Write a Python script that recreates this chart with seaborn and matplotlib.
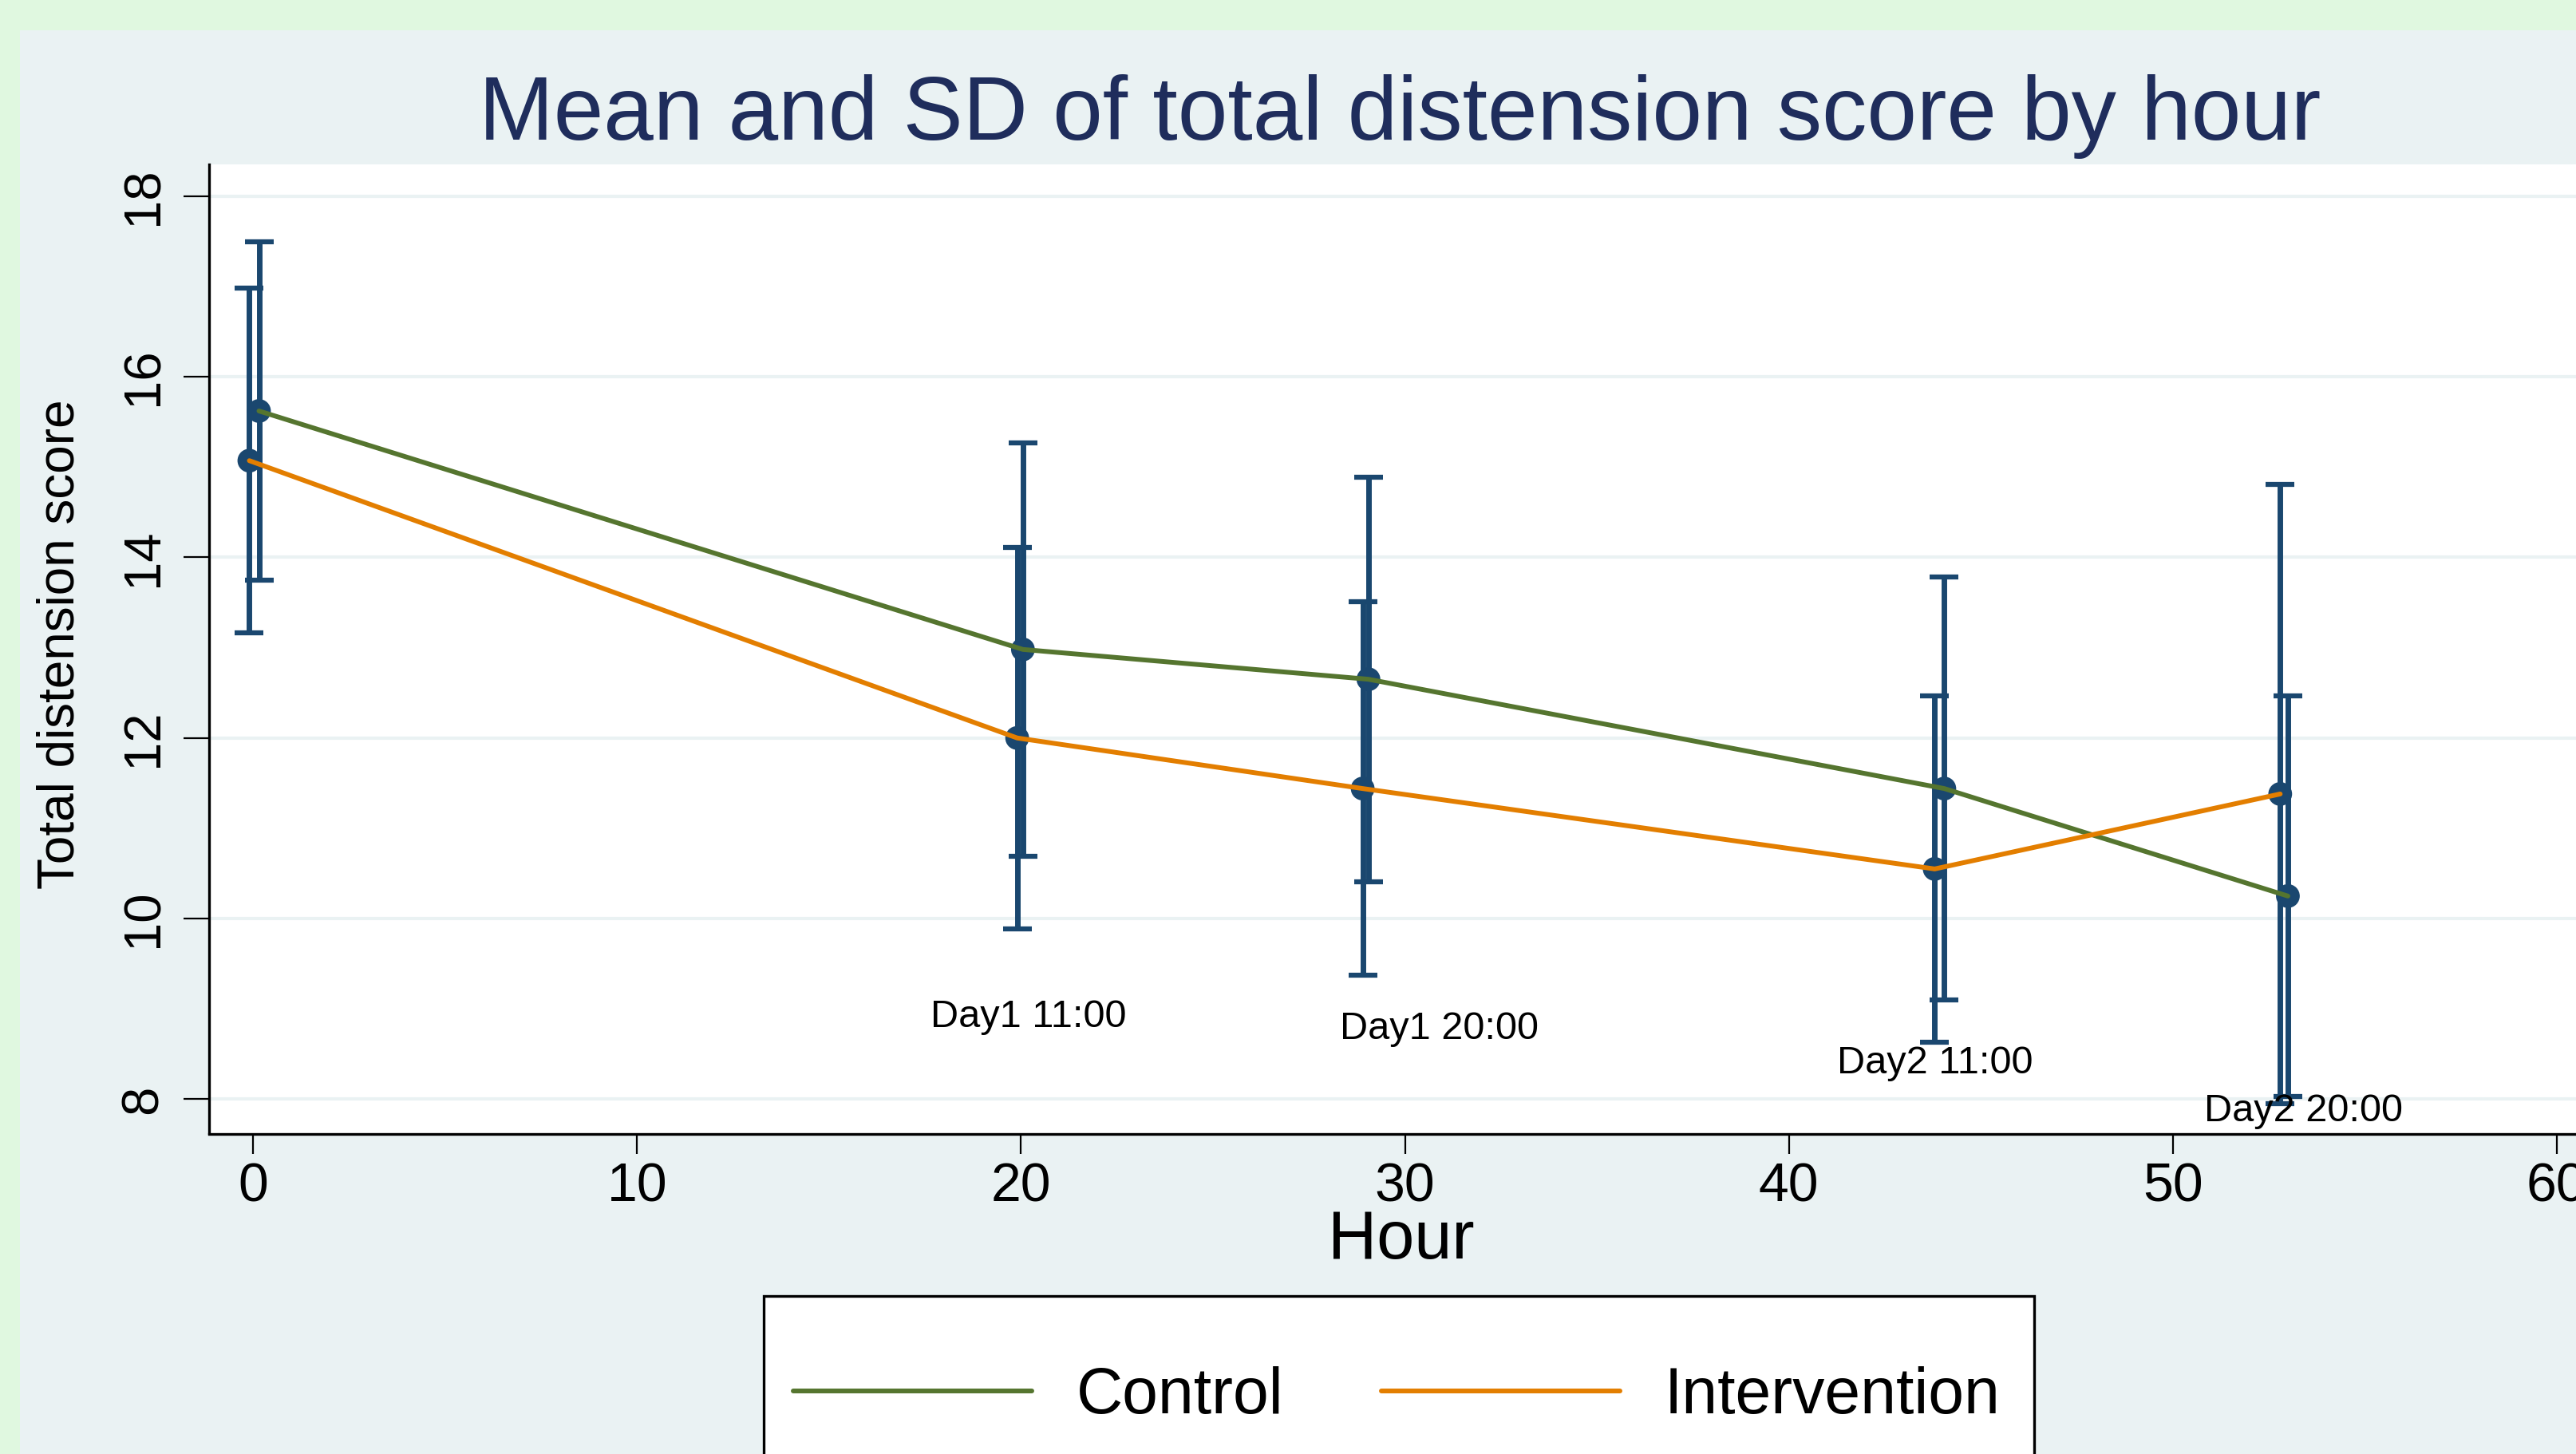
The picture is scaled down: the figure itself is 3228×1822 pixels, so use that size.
import numpy as np
import pandas as pd
import matplotlib
matplotlib.use("Agg")
import matplotlib.pyplot as plt
import seaborn as sns
from matplotlib.patches import Rectangle
from matplotlib.lines import Line2D

# ---------------- data ----------------
groups = ["Control", "Intervention"]
hour_control = [0.15, 20.05, 29.05, 44.05, 53.0]
hour_intervention = [-0.10, 19.90, 28.90, 43.80, 52.80]
mean_control = [15.62, 12.98, 12.65, 11.44, 10.25]
sd_control = [1.87, 2.29, 2.24, 2.34, 2.22]
mean_intervention = [15.07, 12.00, 11.44, 10.55, 11.38]
sd_intervention = [1.91, 2.11, 2.07, 1.92, 3.43]
time_labels = ["Day1 11:00", "Day1 20:00", "Day2 11:00", "Day2 20:00"]
time_label_x = [20.2, 30.9, 43.8, 53.4]
time_label_y = [8.91, 8.78, 8.40, 7.87]
x_ticks = [0, 10, 20, 30, 40, 50, 60]
y_ticks = [8, 10, 12, 14, 16, 18]

# ---------------- style ----------------
W, H, DPI = 3228, 1822, 100
green_bg = "#e0f8e0"
panel_bg = "#eaf2f3"
navy = "#1a476f"
line_colors = {"Control": "#55752f", "Intervention": "#e37e00"}
FONT = ["Liberation Sans", "DejaVu Sans"]

sns.set_theme(style="white")
plt.rcParams["font.family"] = FONT
plt.rcParams["text.color"] = "black"

fig = plt.figure(figsize=(W / DPI, H / DPI), dpi=DPI, facecolor=green_bg)
# light blue-gray panel
fig.patches.append(Rectangle((25 / W, 0), 1, 1 - 38 / H, transform=fig.transFigure,
                             facecolor=panel_bg, edgecolor="none", zorder=-10))
# legend box (extends past the bottom edge, as in the reference)
fig.patches.append(Rectangle((957 / W, -0.2), (2549 - 957) / W, 0.2 + 1 - 1624 / H,
                             transform=fig.transFigure, facecolor="white",
                             edgecolor="black", linewidth=2.4, zorder=-5))

left, right, top, bottom = 261.5, 3247, 206, 1420.5
ax = fig.add_axes([left / W, 1 - bottom / H, (right - left) / W, (bottom - top) / H])
ax.set_zorder(2)
ax.set_facecolor("white")

df = pd.DataFrame({
    "hour": hour_control + hour_intervention,
    "mean": mean_control + mean_intervention,
    "sd": sd_control + sd_intervention,
    "group": [groups[0]] * len(hour_control) + [groups[1]] * len(hour_intervention),
})

# SD error bars + mean markers
for g in groups:
    d = df[df["group"] == g]
    ax.errorbar(d["hour"], d["mean"], yerr=d["sd"], fmt="none", ecolor=navy,
                elinewidth=5, capsize=13, capthick=4.5, zorder=2)
sns.scatterplot(data=df, x="hour", y="mean", color=navy, s=460, edgecolor="none",
                ax=ax, zorder=3, legend=False)
# connecting lines
sns.lineplot(data=df, x="hour", y="mean", hue="group", palette=line_colors,
             linewidth=4.3, ax=ax, zorder=4, legend=False, sort=True, estimator=None)

for lab, lx, ly in zip(time_labels, time_label_x, time_label_y):
    ax.text(lx, ly, lab, ha="center", va="center", fontsize=35, color="black", zorder=5)

ax.set_xlim(-1.16, 60.9)
ax.set_ylim(7.62, 18.35)
ax.set_xticks(x_ticks)
ax.set_yticks(y_ticks)
ax.set_xticklabels([str(t) for t in x_ticks])
ax.set_yticklabels([str(t) for t in y_ticks])
ax.grid(axis="y", color=panel_bg, linewidth=3.0, zorder=0)
ax.grid(axis="x", visible=False)
ax.set_axisbelow(True)

for s in ["top", "right"]:
    ax.spines[s].set_visible(False)
for s in ["left", "bottom"]:
    ax.spines[s].set_visible(True)
    ax.spines[s].set_color("black")
    ax.spines[s].set_linewidth(2.4)

ax.tick_params(axis="x", which="major", direction="out", length=18, width=1.6,
               color="black", labelsize=49, pad=7, labelcolor="black", bottom=True)
ax.tick_params(axis="y", which="major", direction="out", length=23, width=1.6,
               color="black", labelsize=47, pad=14, labelcolor="black", left=True,
               labelrotation=90)
for t in ax.get_yticklabels():
    t.set_va("center")

ax.set_xlabel("Hour", fontsize=61, color="black")
ax.xaxis.label.set_va("baseline")
ax.xaxis.set_label_coords(0.5006, -0.1289)
ax.set_ylabel("Total distension score", fontsize=46, color="black")
ax.yaxis.label.set_va("baseline")
ax.yaxis.set_label_coords(-0.0565, 0.505)

fig.text(1754 / W, 1 - 175 / H, "Mean and SD of total distension score by hour",
         ha="center", va="baseline", fontsize=81, color="#1f2d5c")

handles = [Line2D([0], [0], color=line_colors[g], linewidth=4.3) for g in groups]
leg = fig.legend(handles, groups, loc="center left",
                 bbox_to_anchor=(994 / W, 1 - 1750 / H), borderaxespad=0,
                 ncol=2, fontsize=58, frameon=False, handlelength=3.71,
                 handletextpad=0.69, columnspacing=1.53, borderpad=0,
                 labelcolor="black")

fig.savefig("out.png", dpi=DPI, facecolor=fig.get_facecolor())
